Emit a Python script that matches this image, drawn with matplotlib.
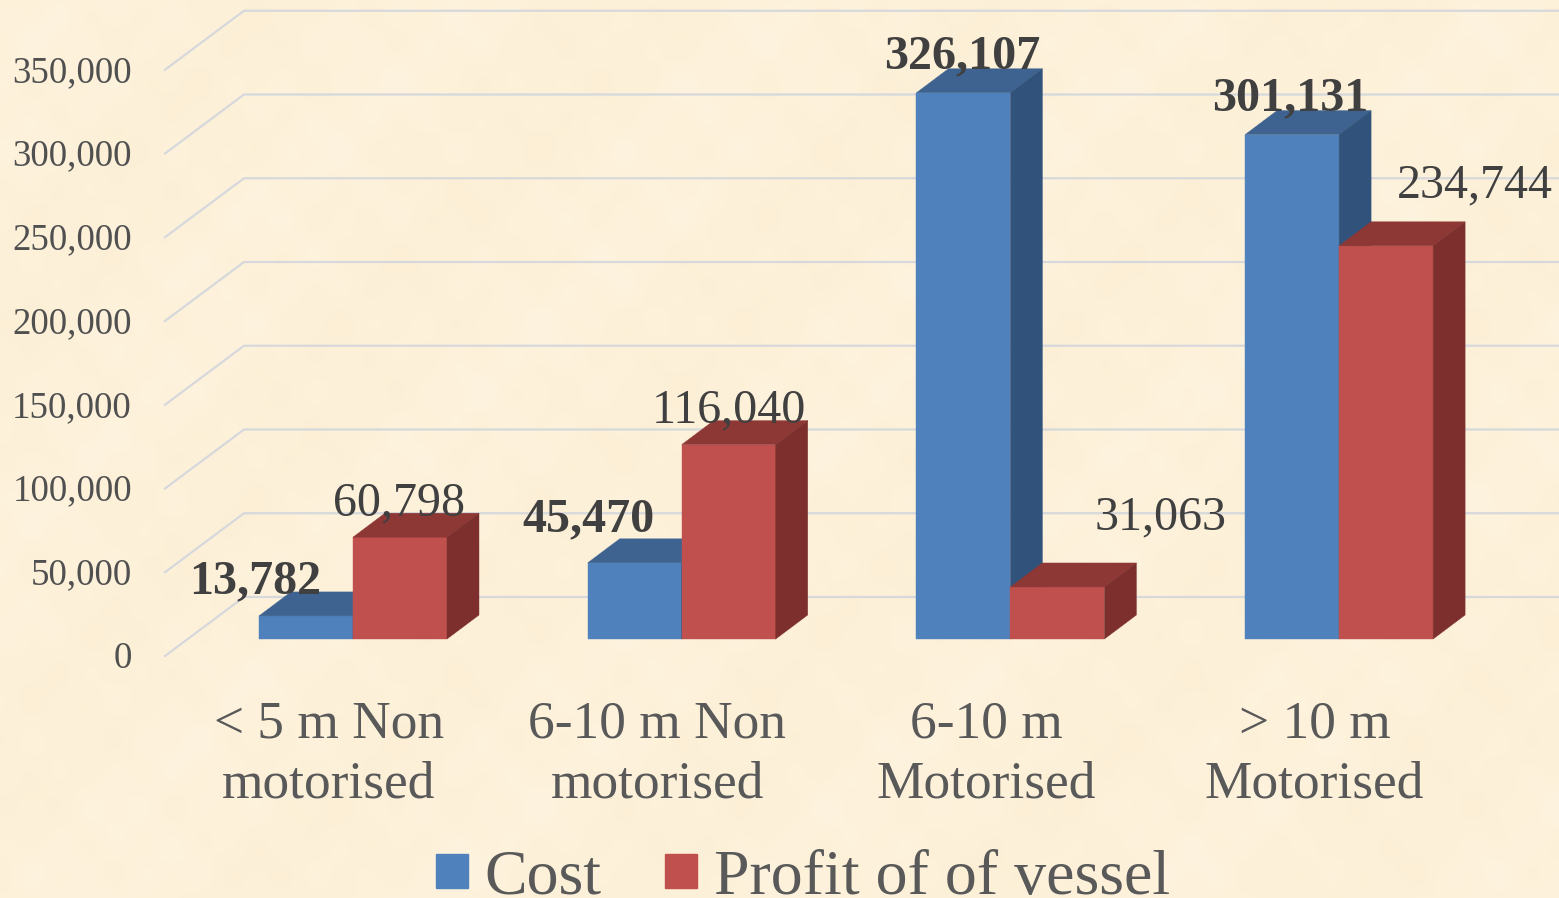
#!/usr/bin/env python3

import numpy as np
import matplotlib
matplotlib.use('Agg')
import matplotlib.pyplot as plt
from matplotlib.patches import Patch, Polygon
from matplotlib.transforms import Affine2D, IdentityTransform

plt.rcParams['font.family'] = ['Liberation Serif', 'DejaVu Serif']

categories = ['< 5 m Non\nmotorised', '6-10 m Non\nmotorised', '6-10 m\nMotorised', '> 10 m\nMotorised']
cost = [13782, 45470, 326107, 301131]
profit = [60798, 116040, 31063, 234744]
y_ticks = [0, 50000, 100000, 150000, 200000, 250000, 300000, 350000]

W, H = 1559, 898
BLUE = ('#4F81BD', '#3E6390', '#31527A')
RED = ('#C0504D', '#8E3836', '#7C2F2D')

# pixel sizes of the fake 3d view
GROUP_PX = 328.7
UNIT_PX = 83.75 / 50000
X0_PX = 353
Y0_PX = 639
bar_w = 94 / GROUP_PX
depth_x = 32 / GROUP_PX
depth_y = 24 / UNIT_PX
wall_x = 79 / GROUP_PX
back_y = 42 / UNIT_PX
front_y = -17 / UNIT_PX

fig = plt.figure(figsize=(W / 100, H / 100), dpi=100)

# parchment background
yy, xx = np.mgrid[0:H, 0:W]
tex = (np.sin(xx / 23.0) * np.sin(yy / 19.0) + np.sin(xx / 57.0 + yy / 71.0)
       + 0.7 * np.sin(xx / 9.0 + 1.3) * np.sin(yy / 11.0 + 0.4))
tex = tex / np.abs(tex).max()
base = np.array([253, 241, 218]) / 255
amp = np.array([0.8, 2.0, 4.5]) / 255
fig.figimage(np.clip(base + tex[..., None] * amp, 0, 1), 0, 0, zorder=-1)

ax = fig.add_axes([0, 0, 1, 1])
ax.patch.set_visible(False)
ax.set_axis_off()
ax.set_xlim(-X0_PX / GROUP_PX, (W - X0_PX) / GROUP_PX)
ax.set_ylim(-(H - Y0_PX) / UNIT_PX, Y0_PX / UNIT_PX)

# back wall and side wall grid
wall_left = -(X0_PX - 244) / GROUP_PX
for t in y_ticks:
    ax.plot([wall_left - wall_x, wall_left, ax.get_xlim()[1]],
            [t + front_y, t + back_y, t + back_y],
            color='#D6D8DC', lw=1.6, zorder=1, solid_joinstyle='miter')
    ax.text(wall_left - wall_x - 33 / GROUP_PX, t + front_y - 12 / UNIT_PX, f'{t:,}',
            ha='right', va='baseline', fontsize=26.6, color='#505050')


def box(x, value, colors):
    ax.bar(x, value, width=bar_w, align='edge', color=colors[0], ec=colors[0], lw=0.3, zorder=3)
    top = [(x, value), (x + bar_w, value), (x + bar_w + depth_x, value + depth_y), (x + depth_x, value + depth_y)]
    side = [(x + bar_w, 0), (x + bar_w + depth_x, depth_y), (x + bar_w + depth_x, value + depth_y), (x + bar_w, value)]
    ax.add_patch(Polygon(top, closed=True, fc=colors[1], ec=colors[1], lw=0.3, zorder=3))
    ax.add_patch(Polygon(side, closed=True, fc=colors[2], ec=colors[2], lw=0.3, zorder=3))


for i in range(len(categories)):
    box(i - bar_w, cost[i], BLUE)
    box(i, profit[i], RED)

# data labels were moved by hand in the original, so offsets differ
cost_off = [(-51, 23), (-46, 32), (-1, 24), (-2, 24)]
profit_off = [(-1, 22), (0, 22), (103, 58), (89, 48)]
for i in range(len(categories)):
    ax.annotate(f'{cost[i]:,}', (i - bar_w / 2, cost[i]), xytext=cost_off[i], textcoords='offset pixels',
                ha='center', va='baseline', fontsize=34.6, fontweight='bold', color='#404040', zorder=5)
    ax.annotate(f'{profit[i]:,}', (i + bar_w / 2, profit[i]), xytext=profit_off[i], textcoords='offset pixels',
                ha='center', va='baseline', fontsize=34.6, color='#404040', zorder=5)

# category labels
px = Affine2D().scale(1, -1).translate(0, H)
for i, c in enumerate(categories):
    line1, line2 = c.split('\n')
    cx = X0_PX + GROUP_PX * i - 24.5
    ax.text(cx, 737, line1, transform=px, ha='center', va='baseline', fontsize=38.4, color='#595959')
    ax.text(cx, 798, line2, transform=px, ha='center', va='baseline', fontsize=38.4, color='#595959')

handles = [Patch(color=BLUE[0], label='Cost'), Patch(color=RED[0], label='Profit of of vessel')]
ax.legend(handles=handles, loc='lower left', bbox_to_anchor=(436, -10), bbox_transform=IdentityTransform(),
          frameon=False, fontsize=46, labelcolor='#595959', ncol=2, borderpad=0, borderaxespad=0,
          handlelength=0.5, handleheight=0.44, handletextpad=0.26, columnspacing=1.0)

fig.savefig('out.png', dpi=100)
